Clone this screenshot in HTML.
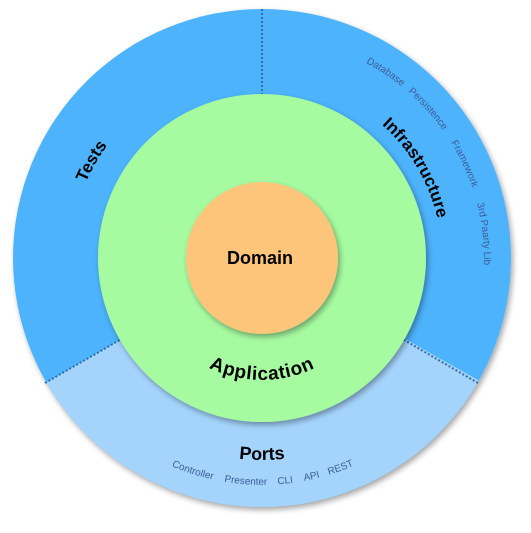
<!DOCTYPE html>
<html><head><meta charset="utf-8"><style>
html,body{margin:0;padding:0;background:#fff;width:531px;height:533px;overflow:hidden}
svg{display:block}
text{font-family:"Liberation Sans","DejaVu Sans",sans-serif}
</style></head><body>
<svg width="531" height="533" viewBox="0 0 531 533" xmlns="http://www.w3.org/2000/svg">
<defs>
<filter id="sh" x="-20%" y="-20%" width="140%" height="140%">
<feDropShadow dx="2" dy="3" stdDeviation="3" flood-color="#000" flood-opacity="0.35"/>
</filter>
<clipPath id="outer"><circle cx="262" cy="258" r="249"/></clipPath>
<path id="cTests" d="M70,259 A192,192 0 1 1 454,259 A192,192 0 1 1 70,259"/>
<path id="cInfra" d="M82,259 A180,180 0 1 1 442,259 A180,180 0 1 1 82,259"/>
<path id="cSmall" d="M40,259 A222,222 0 1 1 484,259 A222,222 0 1 1 40,259"/>
<path id="bApp" d="M140,258 A122,122 0 0 0 384,258"/>
<path id="bPorts" d="M60,258 A202,202 0 0 0 464,258"/>
<path id="bSmall" d="M35,258 A227,227 0 0 0 489,258"/>
</defs>
<circle cx="262" cy="258" r="249" fill="#4db3fd" filter="url(#sh)"/>
<g clip-path="url(#outer)">
<path d="M262,258 L-40,432 L-40,560 L570,560 L570,432 Z" fill="#a4d4fc"/>
</g>
<line x1="262" y1="9" x2="262" y2="100" stroke="#2f6fa8" stroke-width="2" stroke-dasharray="2,2"/>
<line x1="45" y1="383" x2="125" y2="337" stroke="#2f6fa8" stroke-width="2" stroke-dasharray="2,2"/>
<line x1="478" y1="383" x2="399" y2="337" stroke="#2f6fa8" stroke-width="2" stroke-dasharray="2,2"/>
<circle cx="262" cy="258" r="164" fill="#a6fba0" filter="url(#sh)"/>
<circle cx="262" cy="258" r="76" fill="#fdc57a" filter="url(#sh)"/>
<text x="260" y="264" text-anchor="middle" font-size="18" font-weight="bold">Domain</text>
<text font-size="17" font-weight="bold" text-anchor="middle"><textPath href="#cTests" startOffset="8.3%">Tests</textPath></text>
<text font-size="17" font-weight="bold" text-anchor="middle"><textPath href="#cInfra" startOffset="41.5%">Infrastructure</textPath></text>
<g font-size="10" fill="#3d5d96" text-anchor="middle">
<text><textPath href="#cSmall" startOffset="34.3%">Database</textPath></text>
<text><textPath href="#cSmall" startOffset="38.3%">Persistence</textPath></text>
<text><textPath href="#cSmall" startOffset="43%">Framework</textPath></text>
<text><textPath href="#cSmall" startOffset="48.2%">3rd Paarty Lib</textPath></text>
</g>
<text font-size="19" font-weight="bold" text-anchor="middle" letter-spacing="0.6"><textPath href="#bApp" startOffset="50%">Application</textPath></text>
<text font-size="18" font-weight="bold" text-anchor="middle"><textPath href="#bPorts" startOffset="50%">Ports</textPath></text>
<g font-size="10" fill="#3d5d96" text-anchor="middle">
<text><textPath href="#bSmall" startOffset="40%">Controller</textPath></text>
<text><textPath href="#bSmall" startOffset="47.7%">Presenter</textPath></text>
<text><textPath href="#bSmall" startOffset="53.3%">CLI</textPath></text>
<text><textPath href="#bSmall" startOffset="57.1%">API</textPath></text>
<text><textPath href="#bSmall" startOffset="61.4%">REST</textPath></text>
</g>
</svg>
</body></html>
